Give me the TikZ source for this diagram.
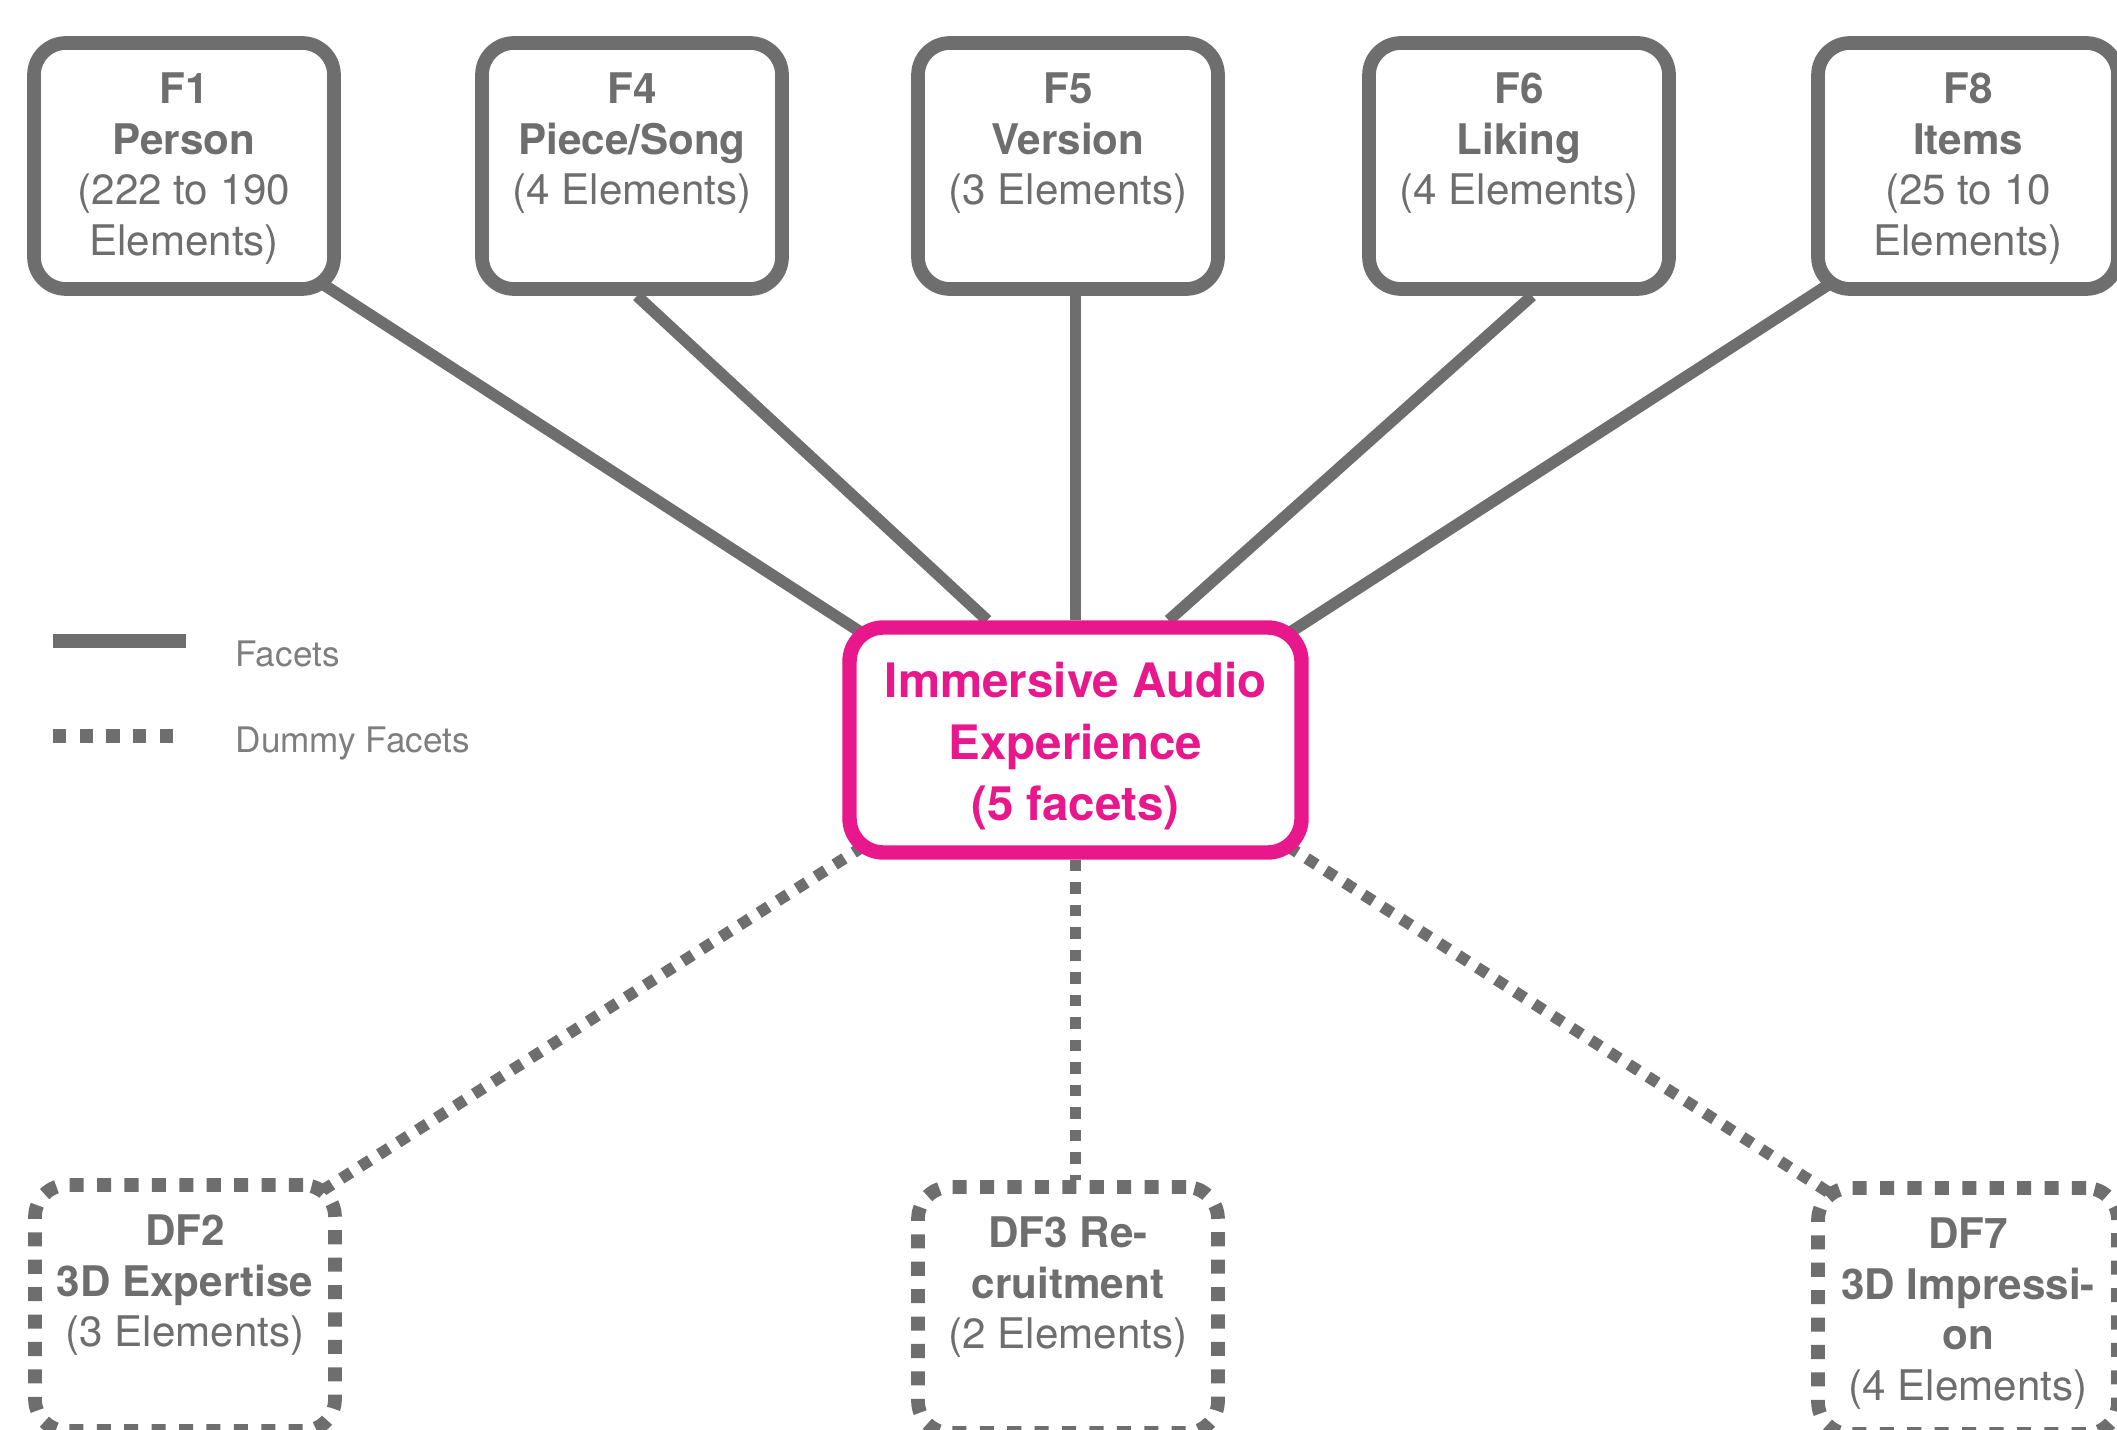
\documentclass[tikz,border=0pt]{standalone}
\usepackage{fontspec}
\setmainfont{TeX Gyre Heros}
\usetikzlibrary{positioning,backgrounds}

\definecolor{facetgrey}{HTML}{6E6E6E}
\definecolor{legendgrey}{HTML}{7E7E7E}
\definecolor{iaepink}{RGB}{232,23,139}

% box text sits at the top of the box
\newcommand{\facettext}[1]{\parbox[c][1.86cm][t]{3.0cm}{\centering #1}}

\begin{document}
\begin{tikzpicture}[
    facet/.style={rectangle, draw=facetgrey, line width=3.9pt, fill=white, rounded corners=0.32cm, minimum width=2.98cm, minimum height=2.46cm, inner sep=0pt, text=facetgrey, font=\fontsize{12}{14.4}\selectfont},
    dummy/.style={facet, dash pattern=on 4pt off 3.8pt},
    core/.style={rectangle, draw=iaepink, line width=4.1pt, fill=white, rounded corners=0.34cm, minimum width=4.52cm, minimum height=2.25cm, align=center, text=iaepink, font=\fontsize{13.5}{17.5}\selectfont\bfseries},
    link/.style={draw=facetgrey, line width=3.3pt},
    dummylink/.style={link, dash pattern=on 3.3pt off 3.1pt},
    legendtext/.style={text=legendgrey, font=\fontsize{10}{12}\selectfont, inner sep=0pt}
]
\useasboundingbox (0,0) rectangle (21.17,-14.30);

% Centre
\node[core] (iae) at (10.755,-7.40) {\rule{0pt}{0.48cm}Immersive Audio\\Experience\\(5 facets)};

% Facets
\node[facet] (f1) at (1.84,-1.66) {\facettext{{\bfseries F1\\Person}\\(222 to 190\\Elements)}};
\node[facet] (f4) at (6.32,-1.66) {\facettext{{\bfseries F4\\Piece/Song}\\(4 Elements)}};
\node[facet] (f5) at (10.68,-1.66) {\facettext{{\bfseries F5\\Version}\\(3 Elements)}};
\node[facet] (f6) at (15.19,-1.66) {\facettext{{\bfseries F6\\Liking}\\(4 Elements)}};
\node[facet] (f8) at (19.68,-1.66) {\facettext{{\bfseries F8\\Items}\\(25 to 10\\Elements)}};

% Dummy facets
\node[dummy] (df2) at (1.85,-13.08) {\facettext{{\bfseries DF2\\3D Expertise}\\(3 Elements)}};
\node[dummy] (df3) at (10.68,-13.10) {\facettext{{\bfseries DF3 Re-\\cruitment}\\(2 Elements)}};
\node[dummy] (df7) at (19.68,-13.11) {\facettext{{\bfseries DF7\\3D Impressi-\\on}\\(4 Elements)}};

% Legend
\coordinate (solidA) at (0.53,-6.41);
\coordinate (solidB) at (1.86,-6.41);
\draw[facetgrey, line width=4pt] (solidA) -- (solidB);
\node[legendtext, anchor=base west] (lfacets) at (2.35,-6.67) {Facets};
\coordinate (dotA) at (0.53,-7.36);
\coordinate (dotB) at (1.73,-7.36);
\draw[facetgrey, line width=4pt, dash pattern=on 3.8pt off 3.8pt] (dotA) -- (dotB);
\node[legendtext, anchor=base west] (ldummy) at (2.35,-7.52) {Dummy Facets};

% Links
\begin{scope}[on background layer]
\draw[link, shorten <=-0.25cm, shorten >=-0.25cm] (f1.south east) -- (iae.north west);
\draw[link] ([xshift=0.05cm]f4.south) -- ([xshift=1.45cm]iae.north west);
\draw[link] (iae.north) -- (iae.north |- f5.south);
\draw[link] ([xshift=0.13cm]f6.south) -- ([xshift=-1.4cm]iae.north east);
\draw[link, shorten <=-0.25cm, shorten >=-0.25cm] (f8.south west) -- (iae.north east);
\draw[dummylink, shorten <=-0.25cm, shorten >=-0.25cm] (iae.south west) -- (df2.north east);
\draw[dummylink] (iae.south) -- (iae.south |- df3.north);
\draw[dummylink, shorten <=-0.25cm, shorten >=-0.25cm] (iae.south east) -- (df7.north west);
\end{scope}

\end{tikzpicture}
\end{document}
